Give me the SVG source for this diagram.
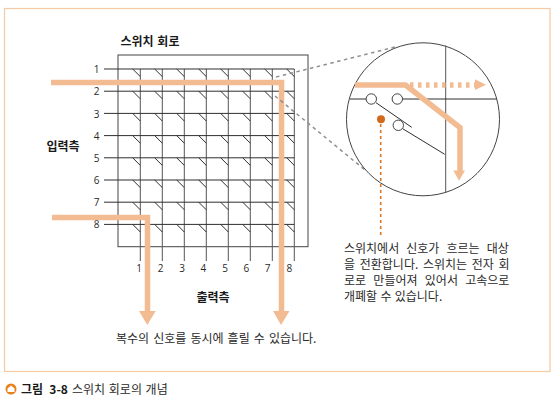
<svg xmlns="http://www.w3.org/2000/svg" xmlns:xlink="http://www.w3.org/1999/xlink" width="555" height="404" viewBox="0 0 555 404">
<style>
text{font-family:"Noto Sans CJK KR","Noto Sans",sans-serif;fill:#2a2a2a;font-size:12px}
.b{font-weight:700;font-size:12px;fill:#1a1a1a}
.n{font-family:"Open Sans","Noto Sans",sans-serif;font-size:10px;text-anchor:middle}
.g{fill:none;stroke:#444;stroke-width:1}
.h{fill:none;stroke:#2f2f2f;stroke-width:1}
.v{fill:none;stroke:#555;stroke-width:1}
.t{fill:none;stroke:#f2bb92;stroke-width:5.5}
.a{fill:#f2bb92}
.d{fill:none;stroke:#8f8f8f;stroke-width:1.5;stroke-dasharray:3.5 3.5}
.c{fill:#fff;stroke:#444;stroke-width:1}
</style>
<defs>
<g id="row">
<path class="h" d="M104 69H294.3"/>
<path class="h" stroke-width=".8" d="M132.7 69l7.6 7.6M154.7 69l7.6 7.6M176.7 69l7.6 7.6M198.7 69l7.6 7.6M220.7 69l7.6 7.6M242.7 69l7.6 7.6M264.7 69l7.6 7.6M286.7 69l7.6 7.6"/>
</g>
</defs>
<rect id="frame" x="4.5" y="8.5" width="545.5" height="363" fill="none" stroke="#f5c9a2" stroke-width="1.2"/>
<g id="switch-circuit">
<rect class="g" x="118" y="55" width="190" height="191.7"/>
<path class="v" d="M140.3 69V261M162.3 69V261M184.3 69V261M206.3 69V261M228.3 69V261M250.3 69V261M272.3 69V261M294.3 69V261"/>
<use xlink:href="#row"/>
<use xlink:href="#row" y="22.2"/>
<use xlink:href="#row" y="44.4"/>
<use xlink:href="#row" y="66.6"/>
<use xlink:href="#row" y="88.8"/>
<use xlink:href="#row" y="111"/>
<use xlink:href="#row" y="133.2"/>
<use xlink:href="#row" y="155.4"/>
<text class="b" x="120.5" y="45.5" word-spacing="1">스위치 회로</text>
</g>
<g id="input-side">
<text class="n" x="96.5" y="73">1</text><text class="n" x="96.5" y="95">2</text><text class="n" x="96.5" y="117.5">3</text><text class="n" x="96.5" y="139.5">4</text><text class="n" x="96.5" y="161.5">5</text><text class="n" x="96.5" y="184">6</text><text class="n" x="96.5" y="206">7</text><text class="n" x="96.5" y="228">8</text>
<text class="b" x="46.5" y="150.5">입력측</text>
</g>
<g id="output-side">
<text class="n" x="139" y="272">1</text><text class="n" x="160.7" y="272">2</text><text class="n" x="182" y="272">3</text><text class="n" x="203.3" y="272">4</text><text class="n" x="225" y="272">5</text><text class="n" x="246.3" y="272">6</text><text class="n" x="267.7" y="272">7</text><text class="n" x="289.3" y="272">8</text>
<text class="b" x="196.5" y="302">출력측</text>
</g>
<g id="connectors">
<path class="t" d="M51 82.5H281.5V312"/>
<path class="a" d="M273 311H289.5L281 325Z"/>
<path class="t" d="M52 217.5H147.5V312"/>
<path class="a" d="M139 311H155.7L147.3 325Z"/>
<path class="d" d="M276 77L397 46.5"/>
<path class="d" d="M275 96L365 170"/>
</g>
<g id="zoom-circle">
<circle cx="423" cy="119.3" r="76.5" fill="#fff" fill-opacity="0" stroke="#444" stroke-width="1"/>
<path class="v" d="M445.7 45.5V193"/>
<path class="h" d="M350 99H366M402.7 99H496.7M376 102.7L411.7 127.3M402.7 128.7L444.7 154.3"/>
<circle class="c" cx="371.3" cy="99" r="5.2"/>
<circle class="c" cx="397.3" cy="99" r="5.2"/>
<circle class="c" cx="398.3" cy="125.3" r="5.2"/>
<path class="t" d="M355 85H405.5L460 127.5V172"/>
<path class="a" d="M453.3 170.5H465L459 180.8Z"/>
<path class="t" d="M410 85H475" stroke-width="3.5" stroke-dasharray="3.5 4.5"/>
<path class="a" d="M475 79.3L486 84.8L475 90Z"/>
</g>
<g id="note">
<circle cx="381" cy="119.3" r="4" fill="#d2691a"/>
<path d="M380.7 124V236" fill="none" stroke="#d9782a" stroke-width="1.6" stroke-dasharray="3 3"/>
<text x="344" y="252.5" word-spacing="4.4">스위치에서 신호가 흐르는 대상</text>
<text x="344" y="268.5" word-spacing="2">을 전환합니다. 스위치는 전자 회</text>
<text x="344" y="284.5" word-spacing="4.6">로로 만들어져 있어서 고속으로</text>
<text x="344" y="300.5" word-spacing=".6">개폐할 수 있습니다.</text>
</g>
<text id="multi-note" x="116" y="343" word-spacing="1.4">복수의 신호를 동시에 흘릴 수 있습니다.</text>
<g id="caption">
<circle cx="11" cy="389" r="5.5" fill="#e8811c"/>
<path d="M11 385.5L14.5 388.5V392H7.5V388.5Z" fill="#fff"/>
<text x="21" y="393.5" style="font-weight:700;font-size:12px;fill:#1a1a1a" word-spacing="3.5">그림 3-8</text>
<text x="72" y="393.5" style="font-size:12px" word-spacing="1">스위치 회로의 개념</text>
</g>
</svg>
